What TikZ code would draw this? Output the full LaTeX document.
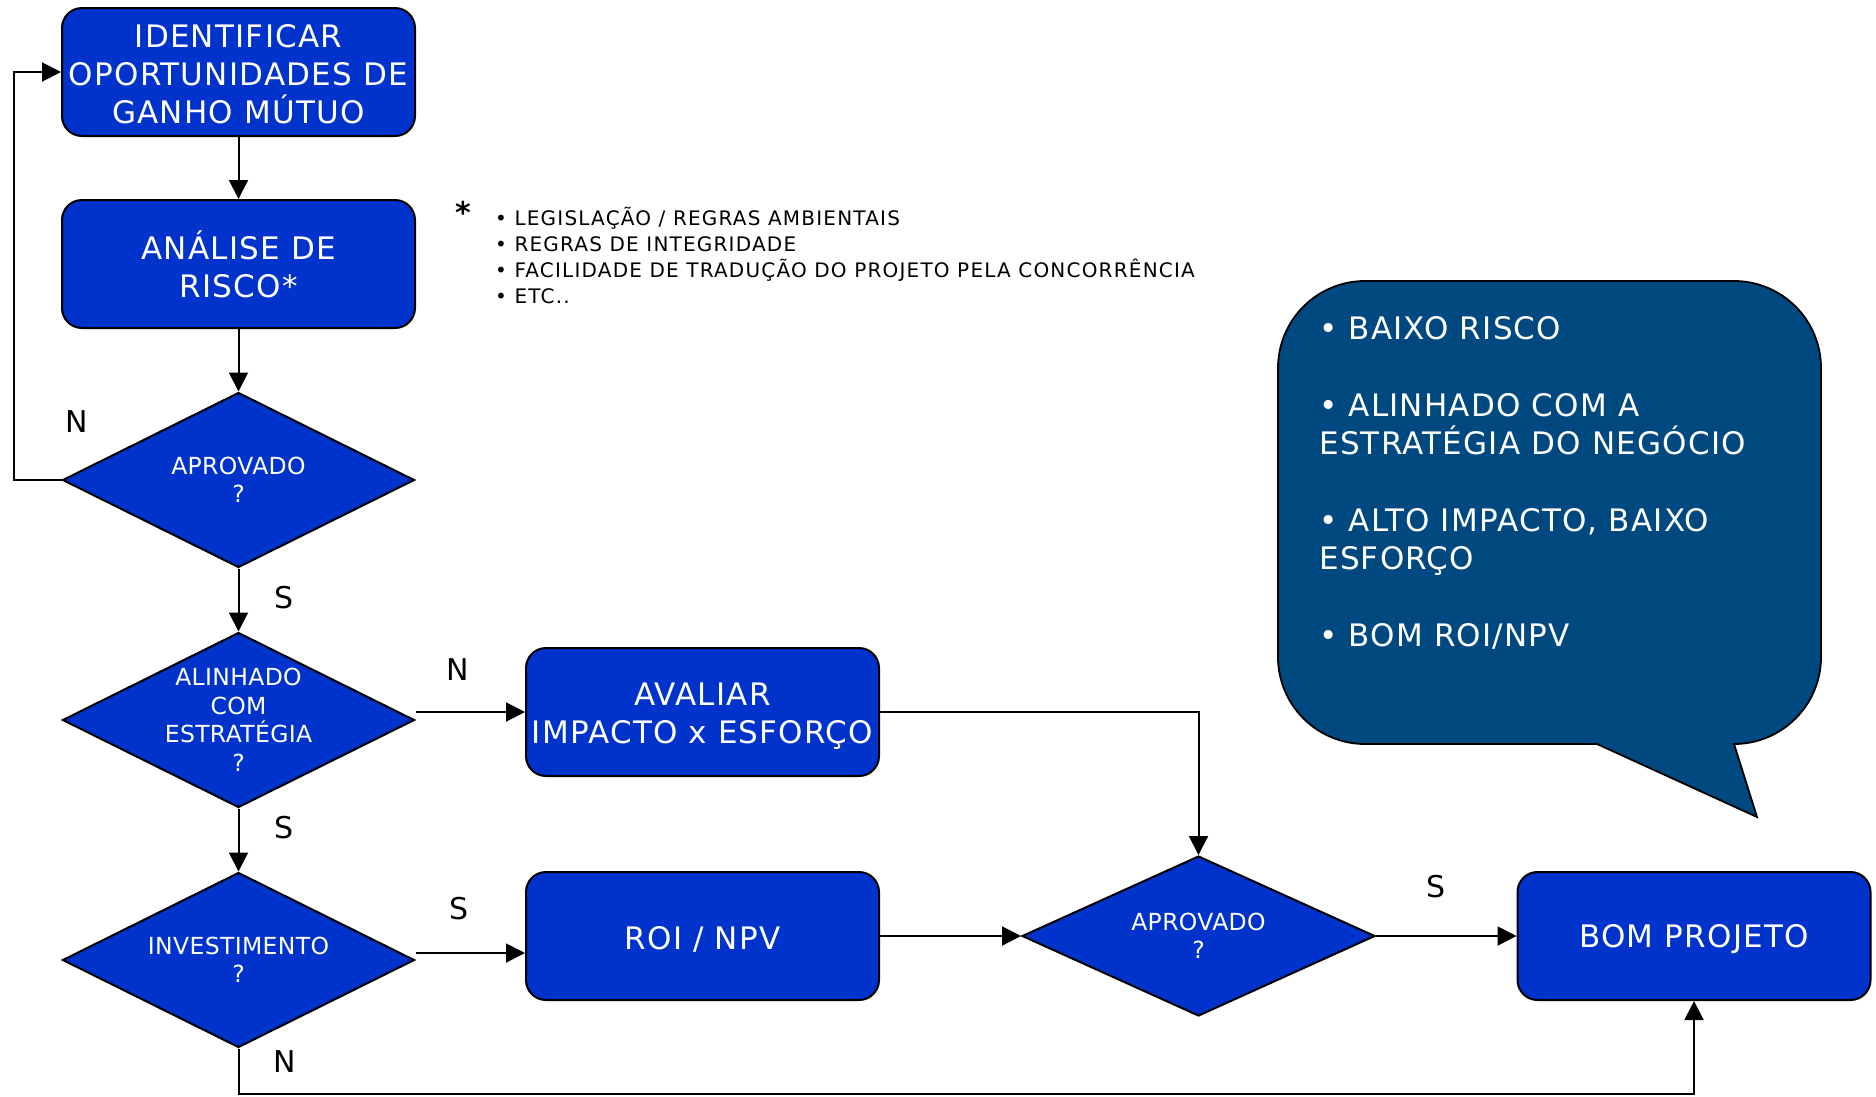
\documentclass[tikz,border=0pt]{standalone}
\usepackage{fontspec}
\setmainfont{DejaVu Sans}
\newfontfamily\boxfont[LetterSpace=4]{DejaVu Sans}
\newfontfamily\notefont[LetterSpace=6]{DejaVu Sans}
\newfontfamily\decfont[LetterSpace=1.5]{DejaVu Sans}
\usetikzlibrary{shapes.geometric,arrows.meta}
\definecolor{boxblue}{RGB}{0,51,204}
\definecolor{bubbleblue}{RGB}{0,73,128}
\begin{document}
\begin{tikzpicture}[x=1pt,y=-1pt,
 procbox/.style={draw=black, line width=2pt, fill=boxblue, rounded corners=20pt, minimum width=353pt, minimum height=128pt, inner sep=0pt, align=center, text=white, font=\boxfont\fontsize{31}{38}\selectfont},
 decbox/.style={draw=black, line width=2pt, fill=boxblue, shape=diamond, minimum width=352pt, minimum height=175pt, inner sep=0pt},
 dectext/.style={text=white, align=center, font=\decfont\fontsize{23.5}{28.5}\selectfont, inner sep=0pt},
 lbl/.style={font=\fontsize{30}{36}\selectfont, inner sep=0pt},
 arr/.style={line width=2pt, -{Triangle[length=19pt,width=19pt]}}
]
\useasboundingbox (0,0) rectangle (1876,1096);

% speech bubble
\path[draw=black, line width=1.8pt, fill=bubbleblue]
  (1597,744) -- (1757,817) -- (1734,744)
  .. controls (1782,744) and (1821,705) .. (1821,657)
  -- (1821,368) .. controls (1821,320) and (1782,281) .. (1734,281)
  -- (1365,281) .. controls (1317,281) and (1278,320) .. (1278,368)
  -- (1278,657) .. controls (1278,705) and (1317,744) .. (1365,744)
  -- cycle;
\node[anchor=base west, align=left, text=white, inner sep=0pt, font=\boxfont\fontsize{31}{38.3}\selectfont] (bt) at (1319,646)
  {• BAIXO RISCO\\[38.3pt]• ALINHADO COM A\\ESTRATÉGIA DO NEGÓCIO\\[38.3pt]• ALTO IMPACTO, BAIXO\\ESFORÇO\\[38.3pt]• BOM ROI/NPV};

% boxes
\node[procbox] (b1) at (238.5,72) {\rule{0pt}{27pt}IDENTIFICAR\\OPORTUNIDADES DE\\GANHO MÚTUO};
\node[procbox] (b2) at (238.5,264) {ANÁLISE DE\\RISCO*};
\node[procbox] (av) at (702.5,712) {\rule{0pt}{31pt}AVALIAR\\IMPACTO x ESFORÇO};
\node[procbox] (roi) at (702.5,936) {\rule{0pt}{29pt}ROI / NPV};
\node[procbox] (bp) at (1694,936) {\rule{0pt}{29pt}BOM PROJETO};

% decisions
\node[decbox] (d1) at (238.5,480) {};
\node[dectext] (t1) at (d1) {APROVADO\\?};
\node[decbox] (d2) at (238.5,720) {};
\node[dectext] (t2) at (d2) {ALINHADO\\COM\\ESTRATÉGIA\\?};
\node[decbox] (d3) at (238.5,960) {};
\node[dectext] (t3) at (d3) {INVESTIMENTO\\?};
\node[decbox, minimum width=353pt, minimum height=160pt] (d4) at (1198.5,936) {};
\node[dectext] (t4) at (d4) {APROVADO\\?};

% note
\node[font=\fontsize{30}{30}\selectfont\bfseries, inner sep=0pt] (star) at (463,212) {*};
\node[anchor=base west, align=left, inner sep=0pt, font=\notefont\fontsize{20}{26}\selectfont] (nt) at (495,303.5)
  {• LEGISLAÇÃO / REGRAS AMBIENTAIS\\• REGRAS DE INTEGRIDADE\\• FACILIDADE DE TRADUÇÃO DO PROJETO PELA CONCORRÊNCIA\\• ETC..};

% labels
\node[lbl] (n1) at (77,422) {N};
\node[lbl] (s1) at (284,598) {S};
\node[lbl] (n2) at (458,670) {N};
\node[lbl] (s2) at (284,828) {S};
\node[lbl] (s3) at (459,909) {S};
\node[lbl] (n3) at (285,1062) {N};
\node[lbl] (s4) at (1436,887) {S};

% connectors
\coordinate (fb) at (14,480);
\coordinate (bl) at (238.5,1094);
\draw[arr] (b1.south) -- (b2.north);
\draw[arr] (b2.south) -- (d1.north);
\draw[arr] (d1.west) -- (fb) |- (b1.west);
\draw[arr] (d1.south) -- (d2.north);
\draw[arr] (d2.south) -- (d3.north);
\draw[arr] (d2.east |- av.west) -- (av.west);
\draw[arr] ([yshift=7pt]d3.east) -- ([yshift=7pt]d3.east -| roi.west);
\draw[arr] (av.east) -| (d4.north);
\draw[arr] (roi.east) -- (d4.west);
\draw[arr] (d4.east) -- (bp.west);
\draw[arr] (d3.south) -- (bl) -| (bp.south);
\end{tikzpicture}
\end{document}
